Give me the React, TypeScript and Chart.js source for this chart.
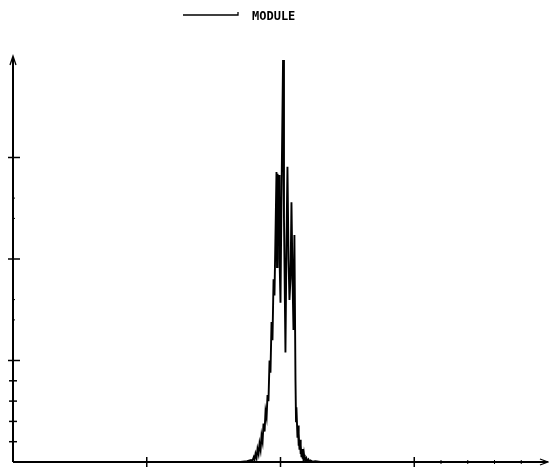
import React, { useEffect, useRef } from "react";
import { Chart, registerables } from "chart.js";

Chart.register(...registerables);

const seriesLabel = "MODULE";
const xValues = [
  0, 1.7, 1.75, 1.78, 1.79, 1.8, 1.806, 1.813, 1.821, 1.828, 1.836, 1.843, 1.851, 1.858, 1.866, 1.873,
  1.881, 1.888, 1.896, 1.903, 1.91, 1.918, 1.925, 1.933, 1.94, 1.948, 1.955, 1.963, 1.97, 1.974, 1.978,
  1.985, 1.989, 1.993, 2.0, 2.007, 2.019, 2.026, 2.037, 2.045, 2.052, 2.06, 2.067, 2.075, 2.082, 2.09,
  2.097, 2.104, 2.112, 2.116, 2.119, 2.127, 2.131, 2.134, 2.138, 2.142, 2.146, 2.149, 2.153, 2.157,
  2.161, 2.164, 2.168, 2.172, 2.176, 2.179, 2.183, 2.187, 2.194, 2.201, 2.209, 2.216, 2.224, 2.239,
  2.26, 2.3, 4.0,
];
const moduleValues = [
  0, 0, 0.2, 0.5, 0.3, 1.2, 0.6, 2.0, 1.0, 3.2, 2.0, 4.5, 3.0, 6.5, 5.0, 9.5,
  7.5, 12.5, 11.0, 16.5, 15.0, 25.0, 22.0, 34.5, 30.0, 45.0, 41.0, 57.0, 71.4, 48.0, 71.0,
  55.0, 70.7, 50.0, 39.2, 64.0, 99.0, 60.0, 27.0, 55.0, 72.7, 50.0, 39.9, 45.3, 64.0, 45.0,
  32.5, 55.9, 20.2, 10.0, 13.5, 6.0, 9.0, 4.0, 7.0, 3.0, 5.5, 2.0, 4.2, 1.2,
  3.2, 0.8, 2.4, 0.5, 1.8, 0.4, 1.3, 0.3, 0.9, 0.2, 0.6, 0.1, 0.4, 0.1,
  0.2, 0, 0,
];
const xMajorTicks = [1, 2, 3];
const xMinorTicks = [3.2, 3.4, 3.6, 3.8];
const yMajorTicks = [25, 50, 75];
const yMinorTicks = [5, 10, 15, 20];
const yFaintTicks = [35, 40, 60, 65];

const axesPlugin = {
  id: "plotterAxes",
  afterDraw(chart: any) {
    const { ctx, chartArea, scales } = chart;
    const xs = scales.x;
    const ys = scales.y;
    const left = chartArea.left;
    const bottom = chartArea.bottom;
    ctx.save();
    ctx.strokeStyle = "#000";
    ctx.fillStyle = "#000";
    ctx.lineWidth = 2;
    ctx.lineCap = "butt";
    // y axis
    ctx.beginPath();
    ctx.moveTo(left, bottom);
    ctx.lineTo(left, chartArea.top + 1);
    ctx.stroke();
    ctx.lineWidth = 1.3;
    ctx.beginPath();
    ctx.moveTo(left - 3, chartArea.top + 9);
    ctx.lineTo(left, chartArea.top);
    ctx.lineTo(left + 3, chartArea.top + 9);
    ctx.stroke();
    // x axis
    ctx.lineWidth = 2;
    ctx.beginPath();
    ctx.moveTo(left, bottom);
    ctx.lineTo(chartArea.right - 1, bottom);
    ctx.stroke();
    ctx.lineWidth = 1.3;
    ctx.beginPath();
    ctx.moveTo(chartArea.right - 8, bottom - 3);
    ctx.lineTo(chartArea.right, bottom);
    ctx.lineTo(chartArea.right - 8, bottom + 3);
    ctx.stroke();
    // y ticks
    ctx.lineWidth = 1.5;
    yMajorTicks.forEach((v) => {
      const p = ys.getPixelForValue(v);
      ctx.beginPath();
      ctx.moveTo(left - 5, p);
      ctx.lineTo(left + 7, p);
      ctx.stroke();
    });
    yMinorTicks.forEach((v) => {
      const p = ys.getPixelForValue(v);
      ctx.beginPath();
      ctx.moveTo(left - 4, p);
      ctx.lineTo(left + 4, p);
      ctx.stroke();
    });
    ctx.lineWidth = 1;
    yFaintTicks.forEach((v) => {
      const p = ys.getPixelForValue(v);
      ctx.beginPath();
      ctx.moveTo(left, p);
      ctx.lineTo(left + 2, p);
      ctx.stroke();
    });
    // x ticks
    ctx.lineWidth = 1.5;
    xMajorTicks.forEach((v) => {
      const p = xs.getPixelForValue(v);
      ctx.beginPath();
      ctx.moveTo(p, bottom - 5);
      ctx.lineTo(p, bottom + 5);
      ctx.stroke();
    });
    ctx.lineWidth = 1;
    xMinorTicks.forEach((v) => {
      const p = xs.getPixelForValue(v);
      ctx.beginPath();
      ctx.moveTo(p, bottom - 2);
      ctx.lineTo(p, bottom + 2);
      ctx.stroke();
    });
    // legend
    ctx.lineWidth = 1.3;
    ctx.beginPath();
    ctx.moveTo(183, 15);
    ctx.lineTo(238, 15);
    ctx.lineTo(238, 12);
    ctx.stroke();
    ctx.font = "bold 12px 'DejaVu Sans Mono'";
    ctx.textBaseline = "alphabetic";
    ctx.textAlign = "left";
    ctx.fillText(seriesLabel, 252, 19.5);
    ctx.restore();
  },
};

export default function App() {
  const canvasRef = useRef<HTMLCanvasElement | null>(null);
  useEffect(() => {
    if (!canvasRef.current) return;
    const chart = new Chart(canvasRef.current, {
      type: "line",
      data: {
        datasets: [
          {
            label: seriesLabel,
            data: xValues.map((x, i) => ({ x, y: moduleValues[i] })),
            borderColor: "#000",
            borderWidth: 1.9,
            pointRadius: 0,
            tension: 0,
            fill: false,
          },
        ],
      },
      options: {
        animation: false,
        responsive: false,
        maintainAspectRatio: false,
        layout: { padding: { left: 13, right: 1, top: 56, bottom: 13 } },
        plugins: { legend: { display: false }, tooltip: { enabled: false } },
        scales: {
          x: { type: "linear", min: 0, max: 4, display: false },
          y: { type: "linear", min: 0, max: 100, display: false },
        },
      },
      plugins: [axesPlugin],
    });
    return () => chart.destroy();
  }, []);
  return (
    <div style={{ position: "absolute", left: 0, top: 0, width: 549, height: 475, background: "#fff" }}>
      <canvas ref={canvasRef} width={549} height={475} style={{ width: 549, height: 475 }} />
    </div>
  );
}
